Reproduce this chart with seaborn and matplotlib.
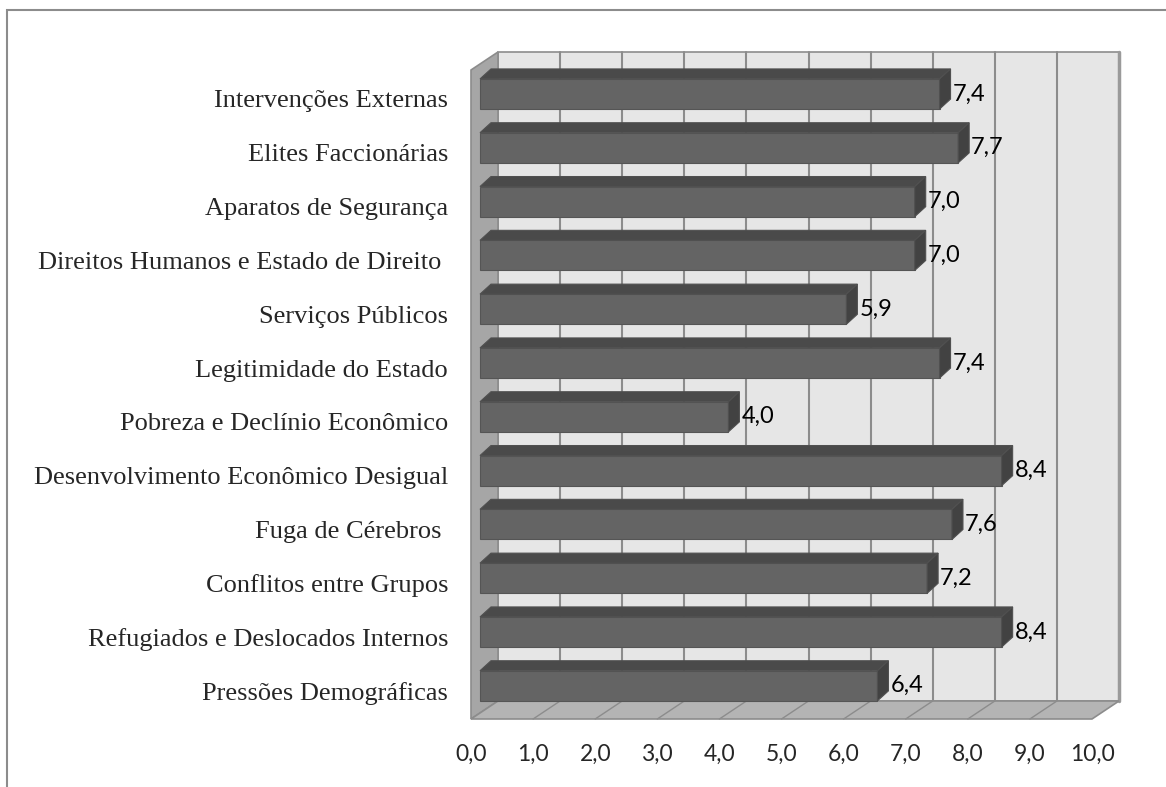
import matplotlib
matplotlib.use("Agg")
import numpy as np
import pandas as pd
import matplotlib.pyplot as plt
import seaborn as sns
from matplotlib.patches import Polygon, Rectangle

# Data
categories = [
    "Intervenções Externas",
    "Elites Faccionárias",
    "Aparatos de Segurança",
    "Direitos Humanos e Estado de Direito ",
    "Serviços Públicos",
    "Legitimidade do Estado",
    "Pobreza e Declínio Econômico",
    "Desenvolvimento Econômico Desigual",
    "Fuga de Cérebros ",
    "Conflitos entre Grupos",
    "Refugiados e Deslocados Internos",
    "Pressões Demográficas",
]
scores = [7.4, 7.7, 7.0, 7.0, 5.9, 7.4, 4.0, 8.4, 7.6, 7.2, 8.4, 6.4]
value_labels = ["7,4", "7,7", "7,0", "7,0", "5,9", "7,4", "4,0", "8,4", "7,6", "7,2", "8,4", "6,4"]
x_ticks = [0, 1, 2, 3, 4, 5, 6, 7, 8, 9, 10]
x_tick_labels = ["0,0", "1,0", "2,0", "3,0", "4,0", "5,0", "6,0", "7,0", "8,0", "9,0", "10,0"]

df = pd.DataFrame({"category": categories, "score": scores})

sns.set_style("white")
plt.rcParams["font.family"] = ["Lato", "DejaVu Sans"]

W, H = 1166, 787
fig = plt.figure(figsize=(W / 100, H / 100), dpi=100)
left, right, top, bottom = 471, 1092, 70, 719
ax = fig.add_axes([left / W, 1 - bottom / H, (right - left) / W, (bottom - top) / H])

sns.barplot(data=df, x="score", y="category", orient="h", color="#646464",
            saturation=1, width=0.56, edgecolor="#555555", linewidth=0.8,
            ax=ax, zorder=3)
bars = list(ax.patches)

y_top, y_bot = -0.539, 11.524
ax.set_xlim(0, 10)
ax.set_ylim(y_bot, y_top)

ux = (right - left) / 10.0      # pixels per value unit
uy = 53.8                       # pixels per category


def off(px_x, px_up):
    return px_x / ux, -px_up / uy


# 3D box: back wall, left wall and floor
wdx, wdy = off(27, 18)
ax.add_patch(Rectangle((wdx, y_top + wdy), 10, y_bot - y_top, facecolor="#e6e6e6",
                       edgecolor="#8c8c8c", lw=1.2, zorder=0.5, clip_on=False))
for k in x_ticks[1:-1]:
    ax.plot([k + wdx, k + wdx], [y_top + wdy, y_bot + wdy], color="#8c8c8c", lw=1.5,
            zorder=0.6, clip_on=False)
ax.plot([10 + wdx, 10 + wdx], [y_top + wdy, y_bot + wdy], color="#9a9a9a", lw=2.5,
        zorder=0.6, clip_on=False)

ax.add_patch(Polygon([(0, y_bot), (0, y_top), (wdx, y_top + wdy), (wdx, y_bot + wdy)],
                     closed=True, facecolor="#a6a6a6", edgecolor="#8c8c8c", lw=1.2,
                     zorder=1, clip_on=False))
ax.add_patch(Polygon([(0, y_bot), (10, y_bot), (10 + wdx, y_bot + wdy), (wdx, y_bot + wdy)],
                     closed=True, facecolor="#b4b4b4", edgecolor="#8c8c8c", lw=1.2,
                     zorder=1, clip_on=False))
for k in x_ticks[1:-1]:
    ax.plot([k, k + wdx], [y_bot, y_bot + wdy], color="#8c8c8c", lw=1.0, zorder=1.1, clip_on=False)

# bars shifted into their depth plane, with top and side faces
bdx, bdy = off(9, 5)
ddx, ddy = off(11, 10)
for bar, lab in zip(bars, value_labels):
    bar.set_x(bar.get_x() + bdx)
    bar.set_y(bar.get_y() + bdy)
    bar.set_clip_on(False)
    x0, yt, w, h = bar.get_x(), bar.get_y(), bar.get_width(), bar.get_height()
    ax.add_patch(Polygon([(x0, yt), (x0 + w, yt), (x0 + w + ddx, yt + ddy), (x0 + ddx, yt + ddy)],
                         closed=True, facecolor="#4a4a4a", edgecolor="#505050", lw=0.8,
                         zorder=3.1, clip_on=False))
    ax.add_patch(Polygon([(x0 + w, yt), (x0 + w, yt + h), (x0 + w + ddx, yt + h + ddy),
                          (x0 + w + ddx, yt + ddy)],
                         closed=True, facecolor="#424242", edgecolor="#505050", lw=0.8,
                         zorder=3.1, clip_on=False))
    ax.text(x0 + w + ddx + 2 / ux, yt + h / 2, lab, ha="left", va="center",
            fontsize=17, color="black", zorder=4, clip_on=False)

ax.set_xticks(x_ticks)
ax.set_xticklabels(x_tick_labels, fontsize=16.5, family=["Lato", "DejaVu Sans"])
ax.set_yticks(range(len(categories)))
ax.set_yticklabels(categories, fontsize=19, family=["Liberation Serif", "DejaVu Serif"])
ax.tick_params(axis="x", length=0, pad=18)
ax.tick_params(axis="y", length=0, pad=16.5)
ax.set_xlabel("")
ax.set_ylabel("")
for s in ax.spines.values():
    s.set_visible(False)
ax.set_facecolor("none")

# outer chart border
fig.patches.append(Rectangle((7 / W, -0.1), 1.2, (H - 10) / H + 0.1, transform=fig.transFigure,
                             fill=False, edgecolor="#8c8c8c", lw=1.5))

fig.savefig("out.png", dpi=100)
